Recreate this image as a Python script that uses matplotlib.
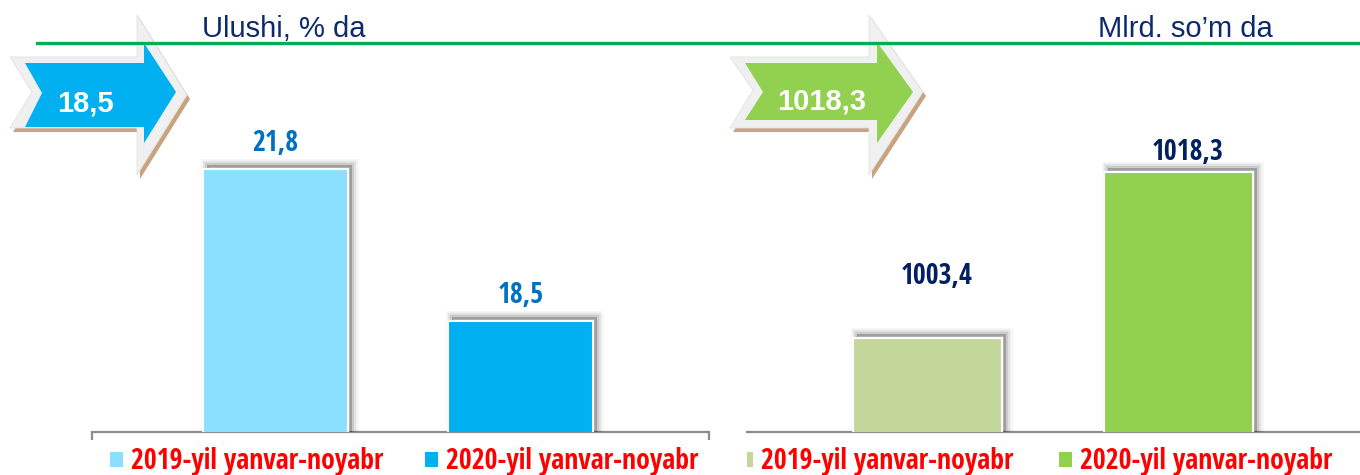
import os
import matplotlib
matplotlib.use('Agg')
import matplotlib.pyplot as plt
from matplotlib import transforms, patheffects as pe
from matplotlib.patches import Polygon, Patch, Rectangle
from matplotlib.lines import Line2D
from matplotlib import font_manager as fm
from matplotlib.font_manager import FontProperties

# ---------------- data ----------------
categories = ['2019-yil yanvar-noyabr', '2020-yil yanvar-noyabr']
share_values = [21.8, 18.5]
share_labels = ['21,8', '18,5']
amount_values = [1003.4, 1018.3]
amount_labels = ['1003,4', '1018,3']
share_title = 'Ulushi, % da'
amount_title = 'Mlrd. so\u2019m da'
share_colors = ['#8ae0fe', '#00b0f0']
amount_colors = ['#c4d79b', '#92d050']

plt.rcParams['font.family'] = ['Liberation Sans', 'DejaVu Sans']

# ---------------- condensed bold font lookup ----------------
def find_condensed():
    best = None
    for f in fm.fontManager.ttflist:
        n = f.name.lower()
        fn = os.path.basename(f.fname).lower()
        cond = ('narrow' in n or 'condensed' in n or 'narrow' in fn or 'condensed' in fn
                or str(f.stretch) in ('condensed', 'semi-condensed', 'extra-condensed'))
        bold = (str(f.weight) in ('bold', '700', 'semibold', '600') or 'bold' in fn)
        if cond and bold and 'italic' not in fn and 'oblique' not in fn:
            rank = 0 if 'liberation' in n else (1 if 'roboto' in n or 'open' in n else 2)
            if best is None or rank < best[0]:
                best = (rank, f.fname)
    return best[1] if best else None


cond_file = find_condensed()


def narrow_fp(size):
    if cond_file:
        return FontProperties(fname=cond_file, size=size)
    return FontProperties(family='Liberation Sans', weight='bold', size=size)


W, H = 1360, 475
fig = plt.figure(figsize=(W / 100, H / 100), dpi=100)
fig.patch.set_facecolor('white')
px = transforms.Affine2D().scale(1 / W, -1 / H).translate(0, 1) + fig.transFigure

# fit the condensed font size so that a legend label is ~259 px wide (max 20 pt)
renderer = fig.canvas.get_renderer()
probe = fig.text(0, 0, categories[0], fontproperties=narrow_fp(20))
wpx = probe.get_window_extent(renderer).width
probe.remove()
NSIZE = min(20.0, 20.0 * 259.0 / wpx)


def axes_px(x0, x1, ybot, ytop):
    return fig.add_axes([x0 / W, 1 - ybot / H, (x1 - x0) / W, (ybot - ytop) / H])


def shadow_effects():
    return [
        pe.PathPatchEffect(offset=(3, 3), facecolor='none', edgecolor='black', linewidth=9, alpha=0.04),
        pe.PathPatchEffect(offset=(3, 3), facecolor='none', edgecolor='black', linewidth=6, alpha=0.07),
        pe.PathPatchEffect(offset=(3, 3), facecolor='none', edgecolor='black', linewidth=3, alpha=0.10),
        pe.PathPatchEffect(offset=(3, 3), facecolor='black', edgecolor='none', alpha=0.22),
        pe.Normal(),
    ]


def panel(ax, values, labels, colors, xlim, ylim, width, lbl_color, offsets, end_ticks):
    x = list(range(len(values)))
    bars = ax.bar(x, values, width=width, color=colors, edgecolor='white', linewidth=1.5, zorder=3)
    for b in bars:
        b.set_path_effects(shadow_effects())
    ax.set_xlim(*xlim)
    ax.set_ylim(*ylim)
    ax.set_facecolor('none')
    for s in ['left', 'right', 'top']:
        ax.spines[s].set_visible(False)
    ax.spines['bottom'].set_color('#8c8c8c')
    ax.spines['bottom'].set_linewidth(1.6)
    ax.set_yticks([])
    if end_ticks:
        ax.set_xticks(list(xlim))
        ax.tick_params(axis='x', length=6, width=1.6, color='#8c8c8c', labelbottom=False, direction='out')
    else:
        ax.set_xticks([])
    for xi, v, lbl, (dx, dy) in zip(x, values, labels, offsets):
        ax.annotate(lbl, xy=(xi, v), xytext=(dx, dy), textcoords='offset points',
                    ha='center', va='baseline', fontproperties=narrow_fp(NSIZE),
                    color=lbl_color, zorder=5)


# left panel
axL = axes_px(92, 709, 432, 63.5)
panel(axL, share_values, share_labels, share_colors, (-0.749, 1.769), (16.1, 24.1), 0.592,
      '#0070c0', [(0, 13), (0, 13)], True)

# right panel
axR = axes_px(747, 1360, 432, 64.3)
panel(axR, amount_values, amount_labels, amount_colors, (-0.719, 1.723), (995, 1028), 0.594,
      '#002060', [(6.5, 39), (6.5, 9)], False)


# ---------------- arrows ----------------
def arrow(border, fill, color):
    shadow = [(x + 3, y + 4) for x, y in border]
    fig.add_artist(Polygon(shadow, closed=True, transform=px, facecolor='#c9a27f', edgecolor='none', zorder=2))
    fig.add_artist(Polygon(border, closed=True, transform=px, facecolor='#f0f0f0', edgecolor='#e2e2e2',
                           linewidth=0.6, zorder=2.1))
    fig.add_artist(Polygon(fill, closed=True, transform=px, facecolor=color, edgecolor='none', zorder=2.2))


arrow([(10, 57), (137, 57), (137, 15), (187, 95), (137, 175), (137, 128), (10, 128), (32, 92)],
      [(25, 63), (144, 63), (144, 43), (176, 92), (144, 143), (144, 127), (25, 127), (42, 93)],
      share_colors[1])
arrow([(730, 57), (869, 57), (869, 15), (923, 92), (869, 175), (869, 128), (730, 128), (753, 90)],
      [(745, 63), (877, 63), (877, 42), (913, 92), (877, 143), (877, 120), (745, 120), (763, 92)],
      amount_colors[1])

fig.text(85, 112, share_labels[-1], transform=px, ha='center', va='baseline', color='white',
         fontsize=21, fontweight='bold', zorder=4)
fig.text(822, 110, amount_labels[-1], transform=px, ha='center', va='baseline', color='white',
         fontsize=21, fontweight='bold', zorder=4)

# green rule
fig.add_artist(Line2D([37, 1360], [43, 43], transform=px, color='#00b050', linewidth=2.4, zorder=3))

# titles
fig.text(202, 37, share_title, transform=px, ha='left', va='baseline', fontsize=21, color='#0d2b6b', zorder=4)
fig.text(1098, 37, amount_title, transform=px, ha='left', va='baseline', fontsize=21, color='#0d2b6b', zorder=4)


# ---------------- legends ----------------
def legend(colors, x_anchor, spacing):
    handles = [Patch(facecolor=c, edgecolor='none') for c in colors]
    fs_px = NSIZE * 100 / 72.0
    lg = fig.legend(handles, categories, loc='center left',
                    bbox_to_anchor=(x_anchor / W, 1 - 462 / H), bbox_transform=fig.transFigure,
                    ncol=2, frameon=False, borderpad=0, borderaxespad=0,
                    handlelength=13 / fs_px, handleheight=13 / fs_px, handletextpad=8 / fs_px,
                    columnspacing=spacing / fs_px,
                    prop=narrow_fp(NSIZE), labelcolor='#ff0000')
    return lg


legend(share_colors, 110, 42)
legend(amount_colors, 740, 46)
# the right-hand panel is cropped on its left edge
fig.add_artist(Rectangle((712, 442), 35, 33, transform=px, facecolor='white', edgecolor='none', zorder=10))

fig.savefig('out.png', dpi=100, facecolor='white')
